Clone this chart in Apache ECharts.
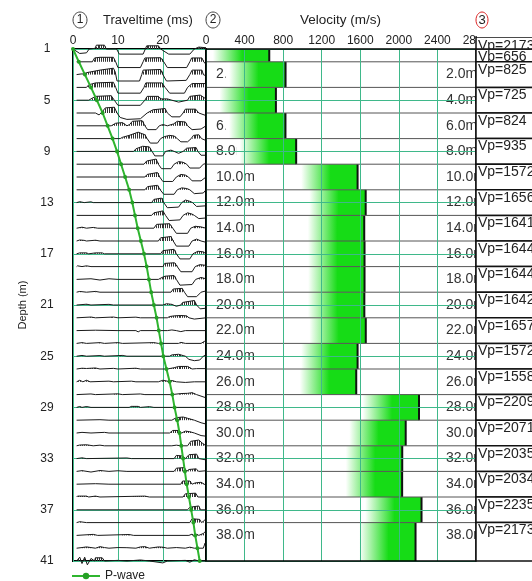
<!DOCTYPE html>
<html><head><meta charset="utf-8">
<script src="https://cdn.jsdelivr.net/npm/echarts@6/dist/echarts.min.js"></script>
<style>html,body{margin:0;padding:0;background:#fff}#c{width:532px;height:581px}</style>
</head><body><div id="c"></div><script>
// ---------------- data ----------------
const depthMin = 1, depthMax = 41, depthStep = 4;
const timeMax = 29.6, timeStep = 10;
const velMax = 2800, velStep = 400;

// first-break (P-wave) picks: depth (m) and traveltime (ms)
const pwaveDepth = [1,2,3,4,5,6,7,8,9,10,11,12,13,14,15,16,17,18,19,20,21,22,23,24,25,26,27,28,29,30,31,32,33,34,35,36,37,38,39,40,41];
const pwaveTime  = [0,1.3,2.65,4.0,5.3,6.6,7.7,8.8,9.8,10.7,11.6,12.5,13.2,13.8,14.4,15.1,15.8,16.4,16.9,17.4,18.0,18.6,19.1,19.6,20.1,20.8,21.5,22.1,22.6,23.2,23.7,24.1,24.5,24.9,25.3,25.8,26.3,26.8,27.2,27.7,28.2];

// velocity layers
const layerTop    = [1,2,4,6,8,10,12,14,16,18,20,22,24,26,28,30,32,34,36,38];
const layerBottom = [2,4,6,8,10,12,14,16,18,20,22,24,26,28,30,32,34,36,38,41];
const layerVp     = [656,825,725,824,935,1572,1656,1641,1644,1644,1642,1657,1572,1558,2209,2071,2035,2034,2235,2173];
const layerLabel  = ['','2.0m','4.0m','6.0m','8.0m','10.0m','12.0m','14.0m','16.0m','18.0m','20.0m','22.0m','24.0m','26.0m','28.0m','30.0m','32.0m','34.0m','36.0m','38.0m'];

// seismic traces: flat lists of [time ms, amplitude m (up = +)] per receiver depth
const tracesTop = [
 [0,0, 1.5,-0.35, 3,-0.3, 3.6,0, 4.9,0.05, 5.2,0.3, 7,0.3, 7.4,0, 9.7,0, 10.3,-0.4, 15.6,-0.4, 16.1,0, 16.4,0.25, 19,0.25, 19.5,0, 21.3,-0.4, 26,-0.4, 27,0, 28,0.15, 29.6,0.1],
 [0.8,0, 4.3,0, 4.8,0.3, 6,0.35, 9,0.35, 9.5,0, 10,-0.45, 15,-0.45, 15.6,0, 16,0.3, 19.5,0.32, 20.2,0, 21,-0.45, 25.3,-0.45, 26,0, 26.4,0.3, 28.7,0.3, 29.1,0, 29.6,-0.2],
 [0.8,0, 1.8,0.05, 2.5,0.05, 3,0.15, 6,0.35, 9,0.5, 9.4,0.2, 9.8,-0.5, 14.8,-0.5, 15.3,0, 15.6,0.35, 19.5,0.4, 20,0, 20.8,-0.5, 25.2,-0.45, 26,0, 26.5,0.35, 28.7,0.35, 29,0, 29.6,-0.1],
 [0.8,0, 3,0, 3.5,0.2, 5,0.35, 9,0.4, 9.5,0, 10,-0.45, 15,-0.45, 15.8,0, 16.2,0.35, 19.8,0.35, 20.5,0, 21.5,-0.45, 24.8,-0.45, 25.5,0, 26.5,0.3, 28.7,0.3, 29.6,0.3],
 [0.8,0, 3.5,0, 4,0.1, 5,0.3, 8.5,0.35, 9.2,0, 10,-0.4, 15,-0.4, 16,0, 16.5,0.3, 19,0.3, 19.5,0.1, 21,0.1, 22,0, 23.5,-0.15, 25.5,0, 26,0.3, 28.3,0.4, 29.6,0.1],
 [0.8,0, 5,0, 5.8,-0.15, 6.5,0.1, 7.2,0.4, 9.2,0.45, 9.8,0, 10.5,-0.35, 12,-0.5, 15,-0.45, 16.5,0, 17.8,0.25, 20.5,0.35, 21,0, 22,-0.3, 23.8,-0.3, 24.5,0, 25,0.3, 27.3,0.3, 28,0, 29.6,-0.2],
 [0.8,0, 8.5,0, 9.5,0.2, 11,0.25, 12,0, 12.6,0.1, 13.2,0.35, 15.4,0.4, 16,0, 16.6,-0.3, 18.5,-0.3, 19.2,0, 20,0.1, 21,0, 22.4,0.15, 23.2,0.35, 25,0.3, 25.5,0, 26.5,-0.3, 28.5,-0.25, 29.6,0],
 [0.8,0, 10.5,0, 11,0.1, 12.5,0.25, 14.5,0.5, 16,0.3, 16.5,0, 17.2,-0.35, 18.8,-0.35, 19.5,0, 20.3,0.15, 21.5,0.25, 22.5,0.2, 23.2,0, 24,-0.25, 25.5,-0.25, 26.3,0, 26.8,0.25, 28,0.3, 28.6,0, 29.6,-0.15],
 [0.8,0, 13.5,0, 14,0.2, 15.5,0.4, 17,0.35, 17.6,0, 18.2,-0.35, 20,-0.35, 20.6,0, 21.8,0.1, 22.5,0, 23.5,-0.15, 24.5,0, 25.3,0.25, 27.4,0.3, 27.8,0, 28.5,-0.3, 29.6,-0.3],
 [0.8,0, 15.8,0, 16.4,0.25, 18.5,0.4, 19,0, 19.7,-0.35, 21.8,-0.35, 22.5,0, 23.5,0.2, 24.5,0.15, 25.3,0, 26,-0.3, 28.2,-0.3, 29,0, 29.6,0.05]
];
const tracesMid = [
 [0.8,0, 16,0, 16.5,0.2, 18.8,0.35, 19.3,0, 20,-0.35, 22.2,-0.35, 23,0, 24,0.2, 25,0.15, 25.7,0, 26.5,-0.3, 28.5,-0.3, 29.6,0],
 [0.8,0, 16,0, 16.6,0.25, 18.8,0.35, 19.4,0, 20.2,-0.35, 22.5,-0.35, 23.2,0, 24.2,0.15, 25.3,0.1, 26,0, 27,-0.3, 29,-0.25, 29.6,0],
 [0.8,0, 1.5,0.07, 2.5,0, 4,0.06, 4.5,0, 17.5,0, 18,0.25, 19.7,0.35, 20.2,0, 21,-0.4, 23.5,-0.35, 24.2,0, 25,0.2, 26,0.1, 26.6,0, 27.5,-0.3, 29.6,-0.25],
 [0.8,0, 17.5,0, 18,0.2, 20,0.35, 20.6,0, 21.4,-0.4, 23.8,-0.35, 24.5,0, 25.5,0.2, 26.5,0.1, 27,0, 28,-0.25, 29.6,-0.2],
 [0.8,0, 2,0.08, 3,0, 4.5,0.06, 5.5,0, 18,0, 18.6,0.3, 21.5,0.35, 22.2,0, 23,-0.4, 25.5,-0.4, 26.2,0, 27.2,0.15, 28.5,0.1, 29.6,0],
 [0.8,0, 1.5,0.08, 2.5,0.05, 3,0, 5,0.06, 6,0, 19,0, 19.5,0.25, 21.8,0.35, 22.3,0, 23,-0.4, 25.8,-0.4, 26.5,0, 27.5,0.15, 28.5,0, 29.6,-0.1],
 [0.8,0, 1.5,0.07, 3,0.07, 3.5,0, 5,0.07, 6.5,0.07, 7,0, 19.5,0, 20,0.25, 22.5,0.35, 23,0, 23.8,-0.4, 26,-0.4, 26.7,0, 27.8,0.2, 29,0.15, 29.6,0],
 [0.8,0, 1,0.06, 2,0, 3,0.06, 4,0, 20,0, 20.4,0.25, 22.6,0.3, 23.2,0, 24,-0.4, 26.5,-0.4, 27.2,0, 28.2,0.15, 29.6,0.1],
 [0.8,0, 4,0.05, 6,-0.05, 8,0.05, 10,0, 19,0, 19.8,0.15, 20.5,0.25, 22.5,0.3, 23,0, 23.8,-0.45, 26.5,-0.4, 27.3,0, 28.5,0.15, 29.6,0.05],
 [0.8,0, 1.5,0.06, 3,0, 5,0.06, 6,0, 21.8,0, 22.3,0.25, 24.3,0.3, 24.8,0, 25.5,-0.35, 27.5,-0.35, 28.5,0, 29.6,0.1]
];
const tracesDeep = [
 [0.8,0, 3,0.06, 4,0, 8,0.05, 9,0, 20,0, 20.8,0.1, 22,0.05, 23,-0.1, 24,0, 24.4,0.2, 27,0.35, 27.5,0, 28.3,-0.3, 29.6,-0.25],
 [0.8,0, 4,0.06, 5,0, 9,0.06, 10,0, 14,0.05, 15,0, 21,0, 21.5,0.1, 22.5,0.15, 24,0.18, 25.3,0.15, 25.8,0, 27,-0.1, 29.6,0],
 [0.8,0, 5,0.03, 10,0, 14,0, 14.5,-0.1, 15,0, 21,0, 22,0.05, 23,0, 24,-0.08, 25,0, 29.6,0],
 [0.8,0, 2,0.06, 3,0, 6,0.06, 7,0, 10,0.06, 11,0, 18,0.06, 19,0, 23.5,0, 24,0.08, 25,0, 28.5,0, 29.2,0.15, 29.6,0.2],
 [0.8,0, 2,0.06, 3,0, 6,0.05, 7,0, 11,0.06, 12,0, 21.5,0, 22,0.1, 23.5,0.15, 24.5,0.05, 25,0, 25.8,-0.25, 27,-0.35, 28.2,-0.3, 29,0, 29.6,0.1],
 [0.8,0, 2,0.06, 3,0.04, 5,0.08, 6,0, 9,0.05, 10,0, 14,0.06, 15,0, 21,0, 22.5,0.1, 23.5,0.2, 25.5,0.2, 26.5,0, 27.5,0.03, 29.6,0.03],
 [0.8,0, 1.5,0.12, 2.2,0, 3,0.12, 3.8,0, 8,0.05, 9,0, 13,0.05, 14,0, 19,0, 20,0.12, 21,0.05, 22,0.1, 23,0, 25,-0.05, 27,0, 29.6,0],
 [0.8,0, 4,0.05, 5,0, 10,0.06, 11,0, 15,0.05, 16,0, 22,0, 24,0.08, 25.5,0.1, 26.5,0.15, 27.5,0, 29.6,-0.25],
 [0.8,0, 1.5,0.07, 2,0, 3,0.07, 4,0, 12.5,0, 13,0.08, 14.5,0.08, 15,0, 17,0.06, 18,0, 29.6,0],
 [0.8,0, 6,0.04, 8,0, 22,0, 23,0.2, 24.5,0.25, 25.5,0.15, 27,0, 28.5,-0.2, 29.6,-0.3]
];
const tracesBottom = [
 [0.8,0, 2,0.05, 4,0, 7,0.05, 8,0, 21.5,0, 22.2,0.2, 23.5,0.2, 24.2,0, 25,0.15, 26,0.1, 27,0, 28.5,-0.2, 29.6,-0.25],
 [0.8,0, 1.5,0.06, 3,0.08, 4.5,0, 6,0.05, 7,0, 22,0, 23,0.05, 24,0, 25.5,0, 26.2,0.35, 28,0.45, 28.8,0.2, 29.6,0],
 [0.8,0, 2,0.06, 3,0, 12,0.05, 13,0, 22.5,0, 23,0.25, 24.4,0.2, 25,0, 25.8,0.3, 27.5,0.35, 28,0, 29.6,-0.1],
 [0.8,0, 2,0.06, 4,-0.05, 6,0.07, 8,0, 10,0.05, 12,0, 22.5,0, 23,0.25, 24.8,0.3, 25.3,0, 25.8,0.15, 27.4,0.2, 28,0, 29.6,0.05],
 [0.8,0, 5,0.04, 8,0, 24,0, 24.4,0.25, 26,0.25, 26.5,0, 27.2,0.1, 28.5,0.15, 29.2,0, 29.6,-0.1],
 [0.8,0, 1,0.07, 3,0.07, 3.5,0, 5,0.07, 6,0, 16,0.07, 17,0, 24.5,0, 25,0.25, 27.3,0.3, 27.8,0, 29.6,0],
 [0.8,0, 25.5,0, 26,0.2, 28,0.3, 28.4,0, 29.6,0],
 [0.8,0, 1.5,0.07, 3,0, 26,0, 26.5,0.3, 28.2,0.25, 28.6,0, 29,0.1, 29.6,0.3],
 [0.8,0, 4.5,0.08, 5.5,0, 12.5,0.07, 13.5,0, 25.8,0, 26.5,0.1, 27,-0.1, 27.5,0.1, 28,0, 29,0.15, 29.6,0.35],
 [0.8,0, 2,0.05, 3,0.1, 4,0.05, 5,0, 6,0.12, 7,0.05, 8,0, 10,0.05, 12,0.04, 14,0, 15,0.1, 16,0.12, 17,0, 19,0.1, 20,0.08, 21,0, 23,0.05, 25,0, 26,0.08, 27,0, 29,0, 29.4,0.4, 29.6,0.1],
 [0.8,0, 1.5,0.3, 2,-0.2, 2.6,0.3, 3.2,-0.3, 4,0.2, 4.8,0, 5,0.25, 6.5,0.25, 7,0, 10,0.05, 12,0, 15,0.08, 17,0, 20,-0.15, 21,0, 25,0.05, 26,-0.1, 27,0.1, 28,0, 29.6,0]
];

// ---------------- chart ----------------
const FONT = '"Liberation Sans", Arial, sans-serif';
const GREEN_GRID = '#3fb88a';
const allTraces = tracesTop.concat(tracesMid, tracesDeep, tracesBottom);
const traceData = allTraces.map((k, i) => [0, pwaveDepth[i], i]);
const layerData = layerVp.map((v, i) => [v, layerTop[i], layerBottom[i], i]);

function interp(k, t) {
  for (let j = 0; j < k.length - 2; j += 2) {
    const t0 = k[j], t1 = k[j + 2];
    if (t >= t0 && t <= t1) {
      const f = t1 === t0 ? 0 : (t - t0) / (t1 - t0);
      return k[j + 1] + f * (k[j + 3] - k[j + 1]);
    }
  }
  return 0;
}

function renderTrace(params, api) {
  const i = api.value(2), d = api.value(1);
  const k = allTraces[i];
  const pts = [];
  for (let j = 0; j < k.length; j += 2) pts.push(api.coord([k[j], d - k[j + 1]]));
  const children = [];
  const tEnd = k[k.length - 2];
  for (let t = k[0]; t <= tEnd; t += 0.42) {
    const a = interp(k, t);
    if (a > 0.05) {
      const p0 = api.coord([t, d]), p1 = api.coord([t, d - a]);
      children.push({ type: 'line', shape: { x1: Math.round(p0[0]) + 0.5, y1: p0[1], x2: Math.round(p0[0]) + 0.5, y2: p1[1] },
        style: { stroke: '#333', lineWidth: 1 } });
    }
  }
  children.push({ type: 'polyline', shape: { points: pts }, style: { stroke: '#1a1a1a', lineWidth: 1, fill: null } });
  return { type: 'group', children };
}

function renderLayer(params, api) {
  const v = api.value(0), top = api.value(1), bot = api.value(2), i = api.value(3);
  const pTop = api.coord([v, top]), pBot = api.coord([v, bot]);
  const xL = api.coord([0, top])[0], xR = api.coord([velMax, top])[0];
  const yMid = api.coord([v, top + 1])[1];
  const barW = 60;
  const children = [];
  if (layerLabel[i]) {
    children.push({ type: 'text', x: xL + 10, y: yMid, style: { text: layerLabel[i], fill: '#333', font: '14px ' + FONT, align: 'left', verticalAlign: 'middle' } });
  }
  children.push({ type: 'rect', shape: { x: pTop[0] - barW, y: pTop[1], width: barW, height: pBot[1] - pTop[1] },
    style: { fill: { type: 'linear', x: 0, y: 0, x2: 1, y2: 0, colorStops: [
      { offset: 0, color: '#ffffff' }, { offset: 0.06, color: '#ffffff' }, { offset: 0.55, color: '#16dc16' }, { offset: 1, color: '#16dc16' }] } } });
  children.push({ type: 'line', shape: { x1: pTop[0], y1: pTop[1], x2: pTop[0], y2: pBot[1] }, style: { stroke: '#111', lineWidth: 2 } });
  if (top > depthMin) {
    children.push({ type: 'line', shape: { x1: xL, y1: pTop[1], x2: xR, y2: pTop[1] }, style: { stroke: '#555', lineWidth: 1 } });
  }
  if (layerLabel[i]) {
    children.push({ type: 'text', x: xR - 30, y: yMid, style: { text: layerLabel[i], fill: '#333', font: '14px ' + FONT, align: 'left', verticalAlign: 'middle' } });
  }
  return { type: 'group', children };
}

function renderVpBox(params, api) {
  const v = api.value(0), top = api.value(1), bot = api.value(2), i = api.value(3);
  const xR = api.coord([velMax, top])[0];
  const yT = api.coord([v, top])[1], yB = api.coord([v, bot])[1];
  const children = [
    { type: 'rect', shape: { x: xR, y: yT, width: 70, height: yB - yT }, style: { fill: '#fff', stroke: '#111', lineWidth: 1.5 } },
    { type: 'text', x: xR + 2, y: yT + 1, style: { text: 'Vp=' + v, fill: '#222', font: '14px ' + FONT, align: 'left', verticalAlign: 'top' } }
  ];
  if (i === layerVp.length - 1) {
    const y0 = api.coord([v, depthMin])[1];
    children.push({ type: 'rect', shape: { x: xR, y: y0 - 12, width: 70, height: 12 }, style: { fill: '#fff', stroke: '#111', lineWidth: 1.5 } });
    children.push({ type: 'rect', shape: { x: xR + 1, y: y0 - 20, width: 70, height: 8 }, style: { fill: '#fff', stroke: null } });
    children.push({ type: 'text', x: xR + 2, y: y0 - 10, style: { text: 'Vp=' + v, fill: '#222', font: '14px ' + FONT, align: 'left', verticalAlign: 'top' } });
  }
  return { type: 'group', children };
}

const chart = echarts.init(document.getElementById('c'), null, { renderer: 'canvas' });
const axisLabelStyle = { fontSize: 12, color: '#222', fontFamily: FONT };
chart.setOption({
  animation: false,
  backgroundColor: '#fff',
  textStyle: { fontFamily: FONT },
  grid: [
    { left: 73, top: 49, width: 133, height: 512, show: true, borderColor: '#000', borderWidth: 2 },
    { left: 206, top: 49, width: 270, height: 512, show: true, borderColor: '#000', borderWidth: 1.5, z: 5 }
  ],
  xAxis: [
    { gridIndex: 0, type: 'value', position: 'top', min: 0, max: timeMax, interval: timeStep,
      axisLine: { show: false }, axisTick: { show: false },
      axisLabel: Object.assign({ margin: 2, showMaxLabel: false, formatter: v => String(v) }, axisLabelStyle),
      splitLine: { lineStyle: { color: GREEN_GRID, width: 1 } } },
    { gridIndex: 1, type: 'value', position: 'top', min: 0, max: velMax, interval: velStep,
      axisLine: { show: false }, axisTick: { show: false },
      axisLabel: Object.assign({ margin: 2, formatter: v => String(v) }, axisLabelStyle), splitLine: { show: false } },
    { gridIndex: 1, type: 'value', position: 'bottom', min: 0, max: velMax, interval: velStep, z: 4,
      axisLine: { show: false }, axisTick: { show: false }, axisLabel: { show: false },
      splitLine: { lineStyle: { color: GREEN_GRID, width: 1 } } }
  ],
  yAxis: [
    { gridIndex: 0, type: 'value', inverse: true, min: depthMin, max: depthMax, interval: depthStep,
      name: 'Depth (m)', nameLocation: 'middle', nameGap: 45,
      nameTextStyle: { fontSize: 11, color: '#222', fontFamily: FONT },
      axisLine: { show: false }, axisTick: { show: false },
      axisLabel: Object.assign({ margin: 26, align: 'center' }, axisLabelStyle),
      splitLine: { lineStyle: { color: GREEN_GRID, width: 1 } } },
    { gridIndex: 1, type: 'value', inverse: true, min: depthMin, max: depthMax, interval: depthStep, z: 4,
      axisLine: { show: false }, axisTick: { show: false }, axisLabel: { show: false },
      splitLine: { lineStyle: { color: GREEN_GRID, width: 1 } } }
  ],
  legend: {
    data: ['P-wave'], left: 71, top: 570, itemWidth: 28, itemHeight: 8, padding: 0,
    textStyle: { fontSize: 12, color: '#222', fontFamily: FONT }
  },
  graphic: [
    { type: 'ellipse', shape: { cx: 80, cy: 20, rx: 7, ry: 8 }, style: { fill: null, stroke: '#444', lineWidth: 1 } },
    { type: 'text', x: 80, y: 20, style: { text: '1', font: '12px ' + FONT, fill: '#222', align: 'center', verticalAlign: 'middle' } },
    { type: 'text', x: 103, y: 20, style: { text: 'Traveltime (ms)', font: '13px ' + FONT, fill: '#222', align: 'left', verticalAlign: 'middle' } },
    { type: 'ellipse', shape: { cx: 213, cy: 20, rx: 7, ry: 8 }, style: { fill: null, stroke: '#444', lineWidth: 1 } },
    { type: 'text', x: 213, y: 20, style: { text: '2', font: '12px ' + FONT, fill: '#222', align: 'center', verticalAlign: 'middle' } },
    { type: 'text', x: 300, y: 20, style: { text: 'Velocity (m/s)', font: '13.5px ' + FONT, fill: '#222', align: 'left', verticalAlign: 'middle' } },
    { type: 'ellipse', shape: { cx: 482, cy: 20, rx: 6, ry: 8 }, style: { fill: null, stroke: '#d22', lineWidth: 1 } },
    { type: 'text', x: 482, y: 20, style: { text: '3', font: '13px ' + FONT, fill: '#222', align: 'center', verticalAlign: 'middle' } }
  ],
  series: [
    { type: 'custom', name: 'traces', xAxisIndex: 0, yAxisIndex: 0, coordinateSystem: 'cartesian2d',
      renderItem: renderTrace, data: traceData, encode: { x: 0, y: 1 }, z: 2, silent: true, clip: false },
    { type: 'line', name: 'P-wave', xAxisIndex: 0, yAxisIndex: 0,
      data: pwaveTime.map((t, i) => [t, pwaveDepth[i]]),
      symbol: 'circle', symbolSize: 4, showSymbol: true,
      lineStyle: { color: '#2fb52f', width: 2 }, itemStyle: { color: '#25a025' }, z: 3 },
    { type: 'custom', name: 'layers', xAxisIndex: 1, yAxisIndex: 1, coordinateSystem: 'cartesian2d',
      renderItem: renderLayer, data: layerData, encode: { x: 0, y: 1 }, z: 2, silent: true, clip: false },
    { type: 'custom', name: 'vp', xAxisIndex: 1, yAxisIndex: 1, coordinateSystem: 'cartesian2d',
      renderItem: renderVpBox, data: layerData, encode: { x: 0, y: 1 }, z: 8, silent: true, clip: false }
  ]
});
</script></body></html>
